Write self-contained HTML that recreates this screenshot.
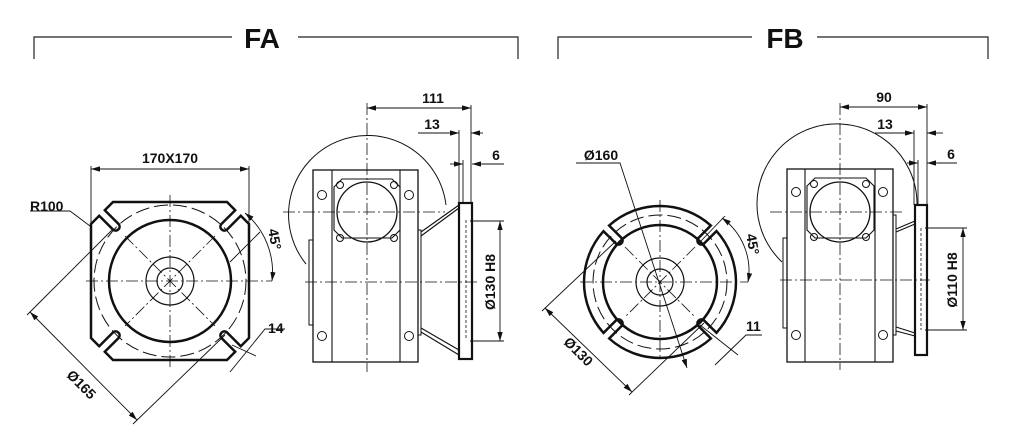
<!DOCTYPE html>
<html><head><meta charset="utf-8"><style>
html,body{margin:0;padding:0;background:#fff;}
svg{display:block;}
text{font-family:"Liberation Sans",sans-serif;font-weight:bold;fill:#111;}
</style></head><body>
<svg width="1019" height="428" viewBox="0 0 1019 428" xmlns="http://www.w3.org/2000/svg">
<defs>
<marker id="a" viewBox="0 0 10 6" refX="10" refY="3" markerWidth="10" markerHeight="6" orient="auto-start-reverse"><path d="M0,0 L10,3 L0,6 z" fill="#111"/></marker>
<path id="qa" d="M170,202 L227,202 L235.2,210.2 L221.2,224.2 A4,4 0 0 0 226.8,229.8 L240.8,215.8 L249,224 L249,281"/>
<path id="qb" d="M660,206 A76,76 0 0 1 710.8,225.5 L698.2,238.2 A4,4 0 0 0 703.8,243.8 L716.5,231.1 A76,76 0 0 1 736,282"/>
</defs>
<g stroke="#222" fill="none" stroke-width="1.2">
<polyline points="34,59 34,37 232,37"/><polyline points="298,37 518,37 518,59"/>
<polyline points="558,59 558,37 752,37"/><polyline points="817,37 988,37 988,59"/>
</g>
<text x="262" y="48" font-size="28" text-anchor="middle">FA</text>
<text x="785" y="48" font-size="28" text-anchor="middle">FB</text>

<!-- FA front -->
<g stroke="#111" fill="none">
<g stroke-width="2.5">
<use href="#qa"/>
<use href="#qa" transform="rotate(90 170 281)"/>
<use href="#qa" transform="rotate(180 170 281)"/>
<use href="#qa" transform="rotate(270 170 281)"/>
</g>
<circle cx="170" cy="281" r="61" stroke-width="2.5"/>
<circle cx="170" cy="281" r="76" stroke-width="1" stroke-dasharray="14,5"/>
<circle cx="170" cy="281" r="24" stroke-width="1.2"/>
<circle cx="170" cy="281" r="13" stroke-width="1.2"/>
<g stroke-width="0.8" stroke-dasharray="12,3,2,3">
<line x1="86" y1="281" x2="272" y2="281"/><line x1="170" y1="195" x2="170" y2="370"/>
<line x1="125" y1="236" x2="215" y2="326"/><line x1="215" y1="236" x2="125" y2="326"/>
</g>
<g stroke-width="0.9">
<line x1="91" y1="169" x2="249" y2="169" marker-start="url(#a)" marker-end="url(#a)"/>
<line x1="91" y1="166" x2="91" y2="235"/><line x1="249" y1="166" x2="249" y2="235"/>
<polyline points="30,211 70,211 90,226"/>
<line x1="30" y1="312" x2="137" y2="420" marker-start="url(#a)" marker-end="url(#a)"/>
<line x1="112" y1="230" x2="27" y2="315"/><line x1="225" y1="335" x2="133" y2="424"/>
<path d="M245,213 A77,77 0 0 1 272,281" marker-start="url(#a)" marker-end="url(#a)"/>
<line x1="230" y1="262" x2="260" y2="232"/>
<polyline points="285,329 265,329 230,372"/>
<line x1="232" y1="345" x2="256" y2="356"/>
</g>
</g>
<text x="30" y="211" font-size="14">R100</text>
<text x="170" y="163" font-size="14" text-anchor="middle">170X170</text>
<text transform="translate(78,388) rotate(45)" font-size="14" text-anchor="middle">Ø165</text>
<text transform="translate(270,240) rotate(80)" font-size="14" text-anchor="middle">45°</text>
<text x="268" y="333" font-size="14">14</text>

<!-- FA side -->
<g stroke="#111" fill="none">
<path d="M306,264 A79,79 0 1 1 446,205" stroke-width="1"/>
<rect x="313" y="170" width="105" height="192" stroke-width="1.3" fill="#fff"/>
<line x1="332" y1="170" x2="332" y2="362" stroke-width="1.1"/><line x1="400" y1="170" x2="400" y2="362" stroke-width="1.1"/>
<path d="M334,187 L342,179 L392,179 L400,187 L400,230 L392,238 L342,238 L334,230 Z" stroke-width="1.1"/>
<circle cx="367" cy="212" r="30" stroke-width="1.3"/>
<circle cx="340" cy="185" r="3.5"/><circle cx="394" cy="185" r="3.5"/><circle cx="340" cy="238" r="3.5"/><circle cx="394" cy="238" r="3.5"/>
<circle cx="322" cy="195" r="4.5"/><circle cx="409" cy="195" r="4.5"/><circle cx="322" cy="336" r="4.5"/><circle cx="409" cy="336" r="4.5"/>
<rect x="309" y="240" width="4" height="85" stroke-width="1"/>
<rect x="418" y="230" width="3" height="105" stroke-width="1"/>
<path d="M421,236 L459,208 M421,232 L459,205 M421,328 L459,350 M421,332 L459,355" stroke-width="1.1"/>
<rect x="459" y="203" width="13" height="156" stroke-width="2.2"/>
<line x1="466" y1="220" x2="466" y2="340" stroke-width="0.8" stroke-dasharray="3,2"/>
<g stroke-width="0.8" stroke-dasharray="12,3,2,3">
<line x1="305" y1="282" x2="478" y2="282"/><line x1="283" y1="212" x2="445" y2="212"/>
<line x1="367" y1="103" x2="367" y2="372"/>
</g>
<g stroke-width="0.9">
<line x1="367" y1="108" x2="471" y2="108" marker-start="url(#a)" marker-end="url(#a)"/>
<line x1="471" y1="105" x2="471" y2="203"/><line x1="459" y1="130" x2="459" y2="203"/>
<line x1="449" y1="133" x2="459" y2="133" marker-end="url(#a)"/><line x1="483" y1="133" x2="471" y2="133" marker-end="url(#a)"/>
<line x1="418" y1="133" x2="449" y2="133"/>
<line x1="463" y1="160" x2="463" y2="203"/>
<line x1="450" y1="164" x2="463" y2="164" marker-end="url(#a)"/><line x1="482" y1="164" x2="472" y2="164" marker-end="url(#a)"/>
<line x1="482" y1="164" x2="504" y2="164"/>
<line x1="500" y1="221" x2="500" y2="341" marker-start="url(#a)" marker-end="url(#a)"/>
<line x1="470" y1="221" x2="504" y2="221"/><line x1="470" y1="341" x2="504" y2="341"/>
</g>
</g>
<text x="433" y="103" font-size="14" text-anchor="middle">111</text>
<text x="432" y="129" font-size="14" text-anchor="middle">13</text>
<text x="496" y="160" font-size="14" text-anchor="middle">6</text>
<text transform="translate(495,282) rotate(-90)" font-size="14" text-anchor="middle">Ø130 H8</text>

<!-- FB front -->
<g stroke="#111" fill="none">
<g stroke-width="2.5">
<use href="#qb"/>
<use href="#qb" transform="rotate(90 660 282)"/>
<use href="#qb" transform="rotate(180 660 282)"/>
<use href="#qb" transform="rotate(270 660 282)"/>
</g>
<circle cx="660" cy="282" r="57" stroke-width="2.5"/>
<circle cx="660" cy="282" r="67" stroke-width="1" stroke-dasharray="14,5"/>
<circle cx="660" cy="282" r="24" stroke-width="1.2"/>
<circle cx="660" cy="282" r="13" stroke-width="1.2"/>
<g stroke-width="0.8" stroke-dasharray="12,3,2,3">
<line x1="580" y1="282" x2="748" y2="282"/><line x1="660" y1="200" x2="660" y2="360"/>
<line x1="625" y1="247" x2="695" y2="317"/><line x1="695" y1="247" x2="625" y2="317"/>
</g>
<g stroke-width="0.9">
<polyline points="576,163 620,163 687,368" marker-end="url(#a)"/>
<line x1="545" y1="308" x2="632" y2="392" marker-start="url(#a)" marker-end="url(#a)"/>
<line x1="616" y1="241" x2="542" y2="311"/><line x1="704" y1="323" x2="629" y2="395"/>
<path d="M722,218 A65,65 0 0 1 748,282" marker-start="url(#a)" marker-end="url(#a)"/>
<line x1="700" y1="242" x2="725" y2="216"/>
<polyline points="762,335 746,335 715,365"/>
<line x1="700" y1="325" x2="738" y2="355"/>
</g>
</g>
<text x="601" y="160" font-size="14" text-anchor="middle">Ø160</text>
<text transform="translate(575,355) rotate(45)" font-size="14" text-anchor="middle">Ø130</text>
<text transform="translate(748,245) rotate(80)" font-size="14" text-anchor="middle">45°</text>
<text x="746" y="331" font-size="14">11</text>

<!-- FB side -->
<g stroke="#111" fill="none">
<path d="M782,262 A80,80 0 1 1 917,205" stroke-width="1"/>
<rect x="787" y="169" width="106" height="193" stroke-width="1.3" fill="#fff"/>
<line x1="805" y1="169" x2="805" y2="362" stroke-width="1.1"/><line x1="875" y1="169" x2="875" y2="362" stroke-width="1.1"/>
<path d="M807,186 L815,178 L866,178 L874,186 L874,230 L866,238 L815,238 L807,230 Z" stroke-width="1.1"/>
<circle cx="840" cy="212" r="30" stroke-width="1.3"/>
<circle cx="814" cy="184" r="3.5"/><circle cx="866" cy="184" r="3.5"/><circle cx="814" cy="237" r="3.5"/><circle cx="866" cy="237" r="3.5"/>
<circle cx="796" cy="192" r="4.5"/><circle cx="883" cy="192" r="4.5"/><circle cx="796" cy="335" r="4.5"/><circle cx="883" cy="335" r="4.5"/>
<rect x="783" y="238" width="4" height="90" stroke-width="1"/>
<rect x="893" y="215" width="3" height="120" stroke-width="1"/>
<path d="M896,232 L915,224 M896,229 L915,221 M896,327 L915,333 M896,331 L915,336" stroke-width="1.1"/>
<rect x="915" y="205" width="12" height="150" stroke-width="2.2"/>
<line x1="921" y1="228" x2="921" y2="330" stroke-width="0.8" stroke-dasharray="3,2"/>
<g stroke-width="0.8" stroke-dasharray="12,3,2,3">
<line x1="780" y1="280" x2="930" y2="280"/><line x1="770" y1="212" x2="905" y2="212"/>
<line x1="840" y1="103" x2="840" y2="370"/>
</g>
<g stroke-width="0.9">
<line x1="840" y1="107" x2="927" y2="107" marker-start="url(#a)" marker-end="url(#a)"/>
<line x1="927" y1="104" x2="927" y2="205"/><line x1="914" y1="130" x2="914" y2="205"/>
<line x1="905" y1="133" x2="914" y2="133" marker-end="url(#a)"/><line x1="943" y1="133" x2="927" y2="133" marker-end="url(#a)"/>
<line x1="875" y1="133" x2="905" y2="133"/>
<line x1="918" y1="160" x2="918" y2="205"/>
<line x1="907" y1="163" x2="918" y2="163" marker-end="url(#a)"/><line x1="938" y1="163" x2="927" y2="163" marker-end="url(#a)"/>
<line x1="938" y1="163" x2="957" y2="163"/>
<line x1="963" y1="228" x2="963" y2="330" marker-start="url(#a)" marker-end="url(#a)"/>
<line x1="925" y1="228" x2="967" y2="228"/><line x1="925" y1="330" x2="967" y2="330"/>
</g>
</g>
<text x="884" y="102" font-size="14" text-anchor="middle">90</text>
<text x="885" y="129" font-size="14" text-anchor="middle">13</text>
<text x="951" y="159" font-size="14" text-anchor="middle">6</text>
<text transform="translate(957,280) rotate(-90)" font-size="14" text-anchor="middle">Ø110 H8</text>
</svg>
</body></html>
